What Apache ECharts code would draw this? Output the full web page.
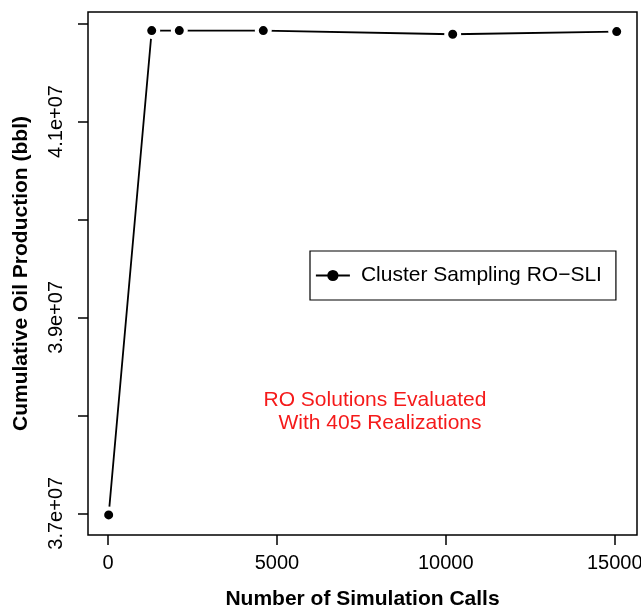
<!DOCTYPE html>
<html>
<head>
<meta charset="utf-8">
<script src="https://cdn.jsdelivr.net/npm/echarts@6/dist/echarts.min.js"></script>
<style>
html,body{margin:0;padding:0;background:#fff;}
#chart{width:641px;height:609px;}
</style>
</head>
<body>
<div id="chart"></div>
<script>
// Data
var simCalls = [20, 1294, 2111, 4597, 10204, 15059];
var cumOil = [3.6983e7, 4.1928e7, 4.1928e7, 4.1928e7, 4.1891e7, 4.1918e7];
var seriesName = 'Cluster Sampling RO\u2212SLI';
var xTicks = [0, 5000, 10000, 15000];
var yTicks = [3.7e7, 3.8e7, 3.9e7, 4.0e7, 4.1e7, 4.2e7];
var yLabels = [3.7e7, 3.9e7, 4.1e7];
var noteLines = ['RO Solutions Evaluated', 'With 405 Realizations'];

var FONT = 'Liberation Sans, Arial, Helvetica, sans-serif';

function sci(v) {
  var e = Math.floor(Math.log10(Math.abs(v)) + 1e-9);
  var m = v / Math.pow(10, e);
  var ms = (Math.round(m * 10) / 10).toString();
  var es = (e < 10 ? '0' : '') + e;
  return ms + 'e+' + es;
}

var chart = echarts.init(document.getElementById('chart'), null, {renderer: 'canvas'});
var option = {
  backgroundColor: '#fff',
  animation: false,
  grid: {
    left: 88, right: 4, top: 12, bottom: 74,
    outerBoundsMode: 'none',
    containLabel: false,
    show: true, borderColor: '#000', borderWidth: 1.5, backgroundColor: 'transparent'
  },
  legend: {
    left: 310, top: 251,
    orient: 'horizontal',
    data: [seriesName],
    itemWidth: 34, itemHeight: 14,
    padding: [14, 14, 14, 5],
    borderColor: '#000', borderWidth: 1.2, borderRadius: 0,
    itemStyle: {borderWidth: 0, color: '#000'},
    lineStyle: {width: 1.8, color: '#000'},
    textStyle: {fontFamily: FONT, fontSize: 21, color: '#000', padding: [0, 0, 0, 6]}
  },
  xAxis: {
    type: 'value',
    min: -592, max: 15660,
    name: 'Number of Simulation Calls',
    nameLocation: 'middle',
    nameGap: 54,
    nameTextStyle: {fontFamily: FONT, fontSize: 21, fontWeight: 'bold', color: '#000'},
    axisLine: {show: false, onZero: false},
    axisTick: {show: true, length: 10, lineStyle: {color: '#000', width: 1.5}, customValues: xTicks},
    axisLabel: {show: true, margin: 18, fontFamily: FONT, fontSize: 20, color: '#000', customValues: xTicks,
      hideOverlap: false, formatter: function (v) { return String(v); }},
    splitLine: {show: false}
  },
  yAxis: {
    type: 'value',
    min: 3.6778e7, max: 4.2118e7,
    name: 'Cumulative Oil Production (bbl)',
    nameLocation: 'middle',
    nameGap: 56,
    nameRotate: 90,
    nameTextStyle: {fontFamily: FONT, fontSize: 21, fontWeight: 'bold', color: '#000'},
    axisLine: {show: false, onZero: false},
    axisTick: {show: true, length: 10, lineStyle: {color: '#000', width: 1.5}, customValues: yTicks},
    axisLabel: {show: true, rotate: 90, margin: 22, fontFamily: FONT, fontSize: 20, color: '#000',
      customValues: yLabels, formatter: function (v) { return sci(v); }},
    splitLine: {show: false}
  },
  graphic: [
    {type: 'text', x: 375, y: 400,
     style: {text: noteLines[0], fill: '#f51a1a', font: '21px ' + FONT, align: 'center', verticalAlign: 'middle'}},
    {type: 'text', x: 380, y: 423,
     style: {text: noteLines[1], fill: '#f51a1a', font: '21px ' + FONT, align: 'center', verticalAlign: 'middle'}}
  ],
  series: [{
    name: seriesName,
    type: 'line',
    data: simCalls.map(function (x, i) { return [x, cumOil[i]]; }),
    symbol: 'circle',
    symbolSize: 13,
    showSymbol: true,
    itemStyle: {color: '#000', borderColor: '#fff', borderWidth: 4},
    lineStyle: {color: '#000', width: 1.8},
    emphasis: {disabled: true},
    z: 3
  }]
};
chart.setOption(option);
</script>
</body>
</html>
